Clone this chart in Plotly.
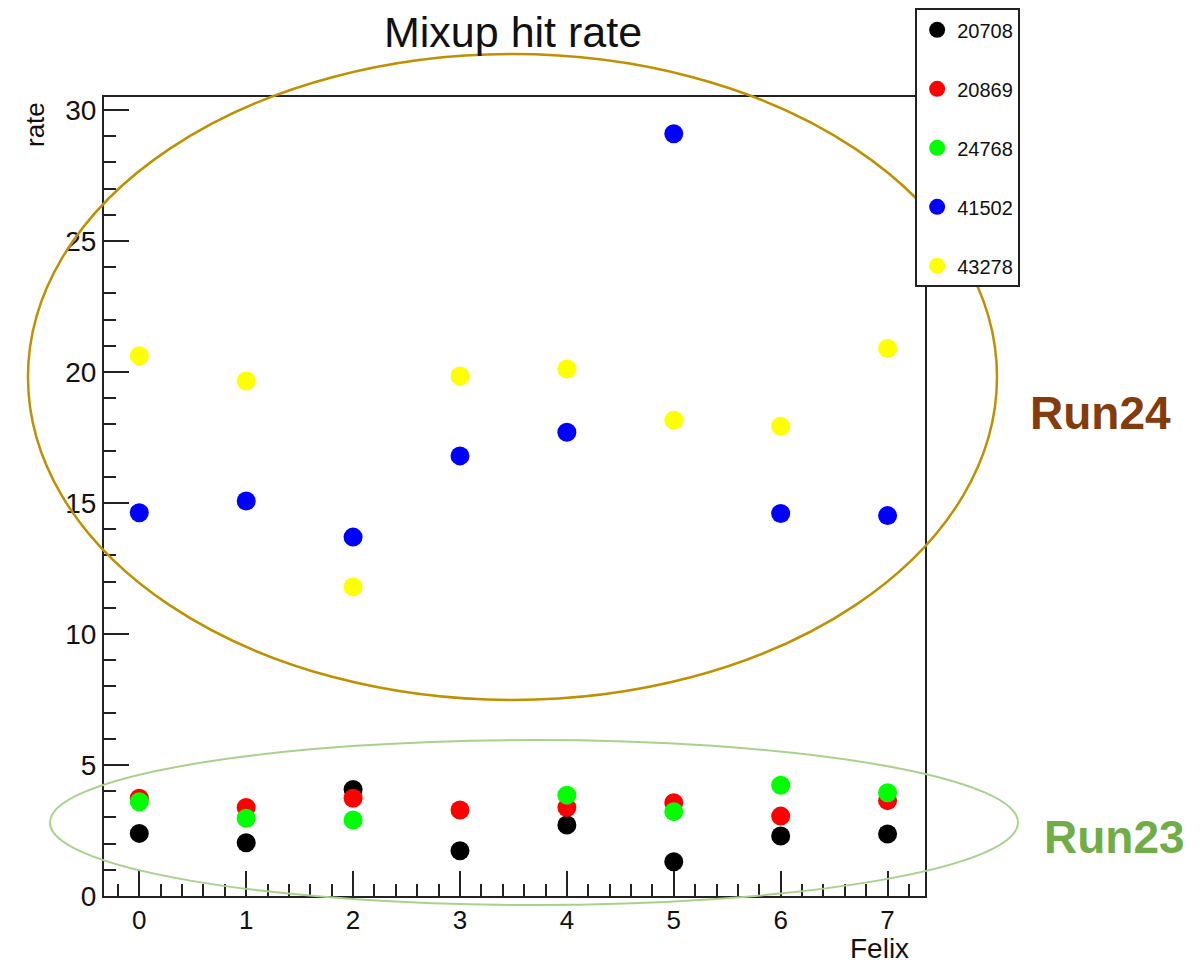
import plotly.graph_objects as go

felix = [0, 1, 2, 3, 4, 5, 6, 7]
run_names = ["20708", "20869", "24768", "41502", "43278"]
rate_20708 = [2.39, 2.03, 4.07, 1.73, 2.71, 1.31, 2.29, 2.37]
rate_20869 = [3.73, 3.38, 3.73, 3.28, 3.38, 3.56, 3.05, 3.64]
rate_24768 = [3.60, 2.97, 2.90, None, 3.85, 3.22, 4.23, 3.94]
rate_41502 = [14.63, 15.08, 13.70, 16.80, 17.70, 29.10, 14.60, 14.52]
rate_43278 = [20.62, 19.66, 11.80, 19.85, 20.12, 18.16, 17.93, 20.90]
series = [rate_20708, rate_20869, rate_24768, rate_41502, rate_43278]
colors = ["#000000", "#FF0000", "#00FF00", "#0000FF", "#FFFF00"]
x_ticks = [0, 1, 2, 3, 4, 5, 6, 7]
y_ticks = [0, 5, 10, 15, 20, 25, 30]

fig = go.Figure()
for name, vals, c in zip(run_names, series, colors):
    fig.add_trace(go.Scatter(
        x=felix, y=vals, mode="markers", name=name, legendgroup=name,
        marker=dict(color=c, size=19, line=dict(width=0)),
    ))

FONT = "Liberation Sans, Arial, sans-serif"

# page body has an 8px margin; figure size/margins compensate for it
fig.update_layout(
    width=1196, height=958,
    margin=dict(l=96, r=279, t=89, b=70, autoexpand=False),
    paper_bgcolor="white", plot_bgcolor="white",
    font=dict(family=FONT, color="#111111"),
    showlegend=True,
    legend=dict(
        x=0.988, y=1.111, xanchor="left", yanchor="top",
        bgcolor="white", bordercolor="#222222", borderwidth=2,
        font=dict(size=20, family=FONT, color="#111111"),
        traceorder="grouped", tracegroupgap=30,
        itemsizing="trace", itemwidth=30,
    ),
    xaxis=dict(
        range=[-0.33, 7.35], tickvals=x_ticks, ticks="inside", ticklen=25,
        tickwidth=2, tickcolor="#222222", showline=True, linecolor="#222222",
        linewidth=2, mirror=True, showgrid=False, zeroline=False,
        tickfont=dict(size=26, family=FONT, color="#111111"),
        minor=dict(ticks="inside", ticklen=12, dtick=0.2, tick0=0,
                   tickcolor="#222222", tickwidth=1.5, showgrid=False),
    ),
    yaxis=dict(
        range=[0, 30.5], tickvals=y_ticks, ticks="inside", ticklen=25,
        tickwidth=2, tickcolor="#222222", showline=True, linecolor="#222222",
        linewidth=2, mirror=True, showgrid=False, zeroline=False,
        tickfont=dict(size=28, family=FONT, color="#111111"),
        minor=dict(ticks="inside", ticklen=12, dtick=1, tick0=0,
                   tickcolor="#222222", tickwidth=1.5, showgrid=False),
    ),
)

fig.add_shape(type="circle", xref="paper", yref="paper",
              x0=-0.0926, x1=1.0877, y0=0.2453, y1=1.0538,
              line=dict(color="#BF9000", width=2.5), layer="above")
fig.add_shape(type="circle", xref="paper", yref="paper",
              x0=-0.0658, x1=1.1133, y0=-0.0113, y1=0.1952,
              line=dict(color="#A9D18E", width=2), layer="above")

def note(text, x, y, size, color="#111111", angle=0):
    fig.add_annotation(text=text, xref="paper", yref="paper", x=x, y=y,
                       xanchor="center", yanchor="middle", showarrow=False,
                       textangle=angle,
                       font=dict(size=size, family=FONT, color=color))

note("Mixup hit rate", 0.498, 1.0814, 43)
note("rate", -0.084, 0.965, 26, angle=-90)
note("Felix", 0.945, -0.0663, 28)
note("<b>Run24</b>", 1.2132, 0.6045, 46, "#843C0C")
note("<b>Run23</b>", 1.2314, 0.0738, 46, "#70AD47")

fig.write_html("out.html")
